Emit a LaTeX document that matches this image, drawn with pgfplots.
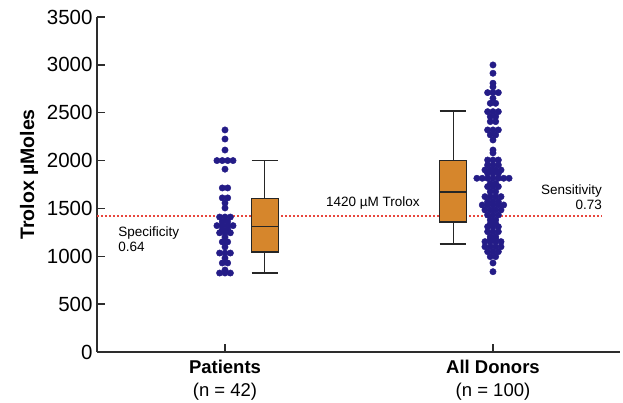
\documentclass[border=0pt]{standalone}
\usepackage{fontspec}
\setmainfont{Liberation Sans}
\usepackage{pgfplots}
\pgfplotsset{compat=1.18}
\definecolor{dotblue}{RGB}{36,28,135}
\definecolor{boxorange}{RGB}{214,134,44}
\definecolor{cutred}{RGB}{232,70,62}
\definecolor{axisgray}{RGB}{45,45,45}

\begin{document}
\begin{tikzpicture}
\useasboundingbox (-97pt,-51pt) rectangle (526pt,352pt);
\begin{axis}[
  scale only axis,
  width=523pt, height=335pt,
  xmin=0.5224, xmax=2.474,
  ymin=0, ymax=3500,
  ytick={0,500,...,3500},
  xtick={1,2},
  xticklabels={{\textbf{Patients}\\(n = 42)},{\textbf{All Donors}\\(n = 100)}},
  axis x line*=bottom,
  axis y line*=left,
  axis line style={axisgray, line width=1.4pt},
  tick style={axisgray, line width=1.3pt},
  major tick length=8pt,
  tick align=inside,
  /pgf/number format/assume math mode=true,
  /pgf/number format/1000 sep={},
  yticklabel style={font=\fontsize{20.5}{22}\selectfont, xshift=-1pt},
  xticklabel style={font=\fontsize{18.5}{23}\selectfont, align=center, yshift=-5pt},
  ylabel={\textbf{Trolox µMoles}},
  ylabel style={font=\fontsize{19.5}{22}\selectfont, at={(axis description cs:-0.13,0.53)}, anchor=center},
  clip=false
]
% cut-off line at 1420
\addplot[cutred, line width=1.6pt, dash pattern=on 1.6pt off 2.4pt] coordinates {(0.5224,1420) (2.407,1420)};

% patients box: whiskers 825/2000, quartiles 1045/1600, median 1310
\addplot[black!85, line width=1.1pt] coordinates {(1.149,825) (1.149,2000)};
\addplot[black!85, line width=1.1pt] coordinates {(1.099,825) (1.199,825)};
\addplot[black!85, line width=1.1pt] coordinates {(1.099,2000) (1.199,2000)};
\addplot[draw=black!85, fill=boxorange, line width=1.1pt] coordinates {(1.099,1045) (1.199,1045) (1.199,1600) (1.099,1600)} -- cycle;
\addplot[black!85, line width=1.1pt] coordinates {(1.099,1310) (1.199,1310)};

% donors box: whiskers 1128/2518, quartiles 1358/2000, median 1672
\addplot[black!85, line width=1.1pt] coordinates {(1.851,1128) (1.851,2518)};
\addplot[black!85, line width=1.1pt] coordinates {(1.801,1128) (1.901,1128)};
\addplot[black!85, line width=1.1pt] coordinates {(1.801,2518) (1.901,2518)};
\addplot[draw=black!85, fill=boxorange, line width=1.1pt] coordinates {(1.801,1358) (1.901,1358) (1.901,2000) (1.801,2000)} -- cycle;
\addplot[black!85, line width=1.1pt] coordinates {(1.801,1672) (1.901,1672)};

% patients (n = 42)
\addplot[only marks, mark=*, mark size=3.2pt, dotblue, mark options={draw=dotblue, fill=dotblue}] coordinates {
(1,2320) (1,2225) (1,2110)
(0.97,2000) (0.99,2000) (1.01,2000) (1.03,2000)
(1,1910)
(0.99,1714) (1.01,1714)
(0.99,1610) (1.01,1610)
(1,1557) (1,1505)
(0.98,1410) (1,1410) (1.02,1410)
(0.99,1360) (1.01,1360)
(0.97,1320) (0.99,1320) (1.01,1320) (1.03,1320)
(0.99,1280) (1.01,1280)
(0.98,1245) (1,1245) (1.02,1245)
(1,1200)
(0.99,1150) (1.01,1150)
(1,1097)
(0.98,1034) (1,1034) (1.02,1034)
(1,982)
(0.99,930) (1.01,930)
(1,857)
(0.98,825) (1,825) (1.02,825)
};

% all donors (n = 100)
\addplot[only marks, mark=*, mark size=3.2pt, dotblue, mark options={draw=dotblue, fill=dotblue}] coordinates {
(2,2999) (2,2912) (2,2808) (2,2770)
(1.98,2710) (2,2710) (2.02,2710)
(2,2650)
(1.99,2598) (2.01,2598)
(1.98,2511) (2,2511) (2.02,2511)
(1.99,2459) (2.01,2459)
(1.99,2407) (2.01,2407)
(1.98,2320) (2,2320) (2.02,2320)
(1.99,2268) (2.01,2268)
(2,2215) (2,2110) (2,2080)
(1.98,2006) (2,2006) (2.02,2006)
(1.98,1954) (2,1954) (2.02,1954)
(1.97,1902) (1.99,1902) (2.01,1902) (2.03,1902)
(1.98,1867) (2,1867) (2.02,1867)
(1.94,1815) (1.96,1815) (1.98,1815) (2,1815) (2.02,1815) (2.04,1815) (2.06,1815)
(1.99,1760) (2.01,1760)
(1.98,1728) (2,1728) (2.02,1728)
(1.99,1675) (2.01,1675)
(1.97,1623) (1.99,1623) (2.01,1623) (2.03,1623)
(1.98,1571) (2,1571) (2.02,1571)
(1.96,1536) (1.98,1536) (2,1536) (2.02,1536) (2.04,1536)
(1.97,1484) (1.99,1484) (2.01,1484) (2.03,1484)
(1.98,1431) (2,1431) (2.02,1431)
(1.99,1379) (2.01,1379)
(1.99,1340) (2.01,1340)
(1.98,1309) (2,1309) (2.02,1309)
(1.98,1257) (2,1257) (2.02,1257)
(1.99,1205) (2.01,1205)
(1.99,1180) (2.01,1180)
(1.97,1153) (1.99,1153) (2.01,1153) (2.03,1153)
(1.97,1100) (1.99,1100) (2.01,1100) (2.03,1100)
(1.98,1048) (2,1048) (2.02,1048)
(1.99,996) (2.01,996)
(2,930) (2,839)
};

% annotations
\node[font=\fontsize{13.5}{15}\selectfont, anchor=center] at (axis cs:1.552,1557) {1420 µM Trolox};
\node[font=\fontsize{13.5}{15}\selectfont, align=left, anchor=west, inner sep=0pt] at (axis cs:0.601,1176) {Specificity\\0.64};
\node[font=\fontsize{13.5}{15}\selectfont, align=right, anchor=east, inner sep=0pt] at (axis cs:2.407,1614) {Sensitivity\\0.73};
\end{axis}
\end{tikzpicture}
\end{document}
